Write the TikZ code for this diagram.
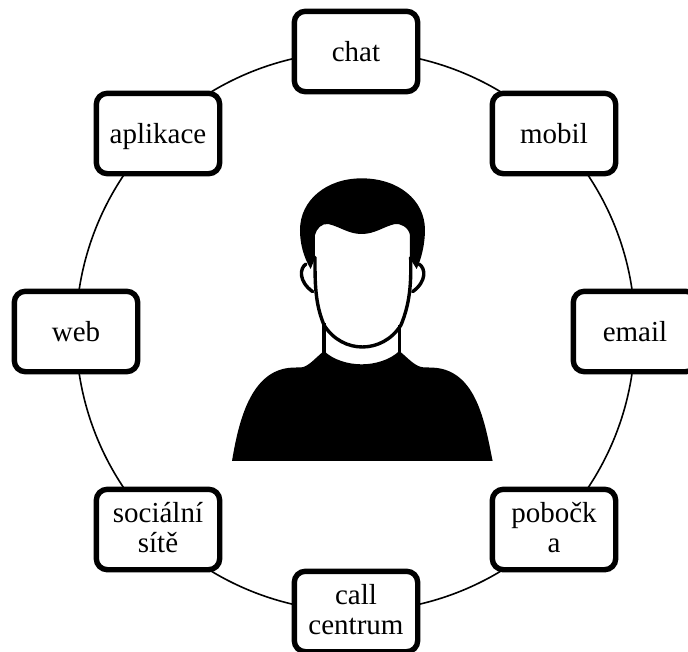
\documentclass[tikz,border=0pt]{standalone}
\usepackage{fontspec}
\setmainfont{Liberation Serif}
\usetikzlibrary{backgrounds}
\tikzset{
  box/.style={draw=black,fill=white,line width=5.4pt,rounded corners=11pt,
    minimum width=123.4pt,minimum height=80.4pt,inner sep=0pt,align=center,
    font=\fontsize{29}{30}\selectfont,text height=19.8pt,text depth=0pt},
  twoline/.style={text height=46pt,text depth=0pt},
  ring/.style={line width=1.6pt,black,looseness=0.885},
  faceline/.style={line width=3.4pt,line cap=round,line join=round}
}
\begin{document}
\begin{tikzpicture}[x=1pt,y=-1pt]
\useasboundingbox (0,0) rectangle (688,651);
\node[box] (chat) at (356,51.5) {chat};
\node[box] (mobil) at (554,133.5) {mobil};
\node[box] (email) at (635,331.5) {email};
\node[box,twoline] (pobocka) at (554,529.5) {poboč{}k\\a};
\node[box,twoline] (call) at (356,611.5) {call\\centrum};
\node[box,twoline] (socialni) at (158,529.5) {sociální\\sítě};
\node[box] (web) at (76,331.5) {web};
\node[box] (aplikace) at (158,133.5) {aplikace};
\begin{scope}[on background layer]
\draw[ring] (chat.center) to[bend left=22.5] (mobil.center);
\draw[ring] (mobil.center) to[bend left=22.5] (email.center);
\draw[ring] (email.center) to[bend left=22.5] (pobocka.center);
\draw[ring] (pobocka.center) to[bend left=22.5] (call.center);
\draw[ring] (call.center) to[bend left=22.5] (socialni.center);
\draw[ring] (socialni.center) to[bend left=22.5] (web.center);
\draw[ring] (web.center) to[bend left=22.5] (aplikace.center);
\draw[ring] (aplikace.center) to[bend left=22.5] (chat.center);
\end{scope}
\begin{scope}[shift={(220,170)},x=0.3333pt,y=-0.3333pt]
% body
\fill[black] (36,873) .. controls (55,760) and (90,600) .. (215,593)
  -- (245,592) .. controls (265,590) and (285,565) .. (312,543)
  .. controls (340,570) and (385,583) .. (425,583)
  .. controls (465,583) and (510,570) .. (538,543)
  .. controls (565,565) and (585,590) .. (610,592)
  -- (640,593) .. controls (770,600) and (795,760) .. (818,873) -- cycle;
% neck
\draw[faceline,line cap=butt] (312,460) -- (312,548);
\draw[faceline,line cap=butt] (538,465) -- (538,548);
% ears
\draw[faceline] (258,282) .. controls (238,295) and (236,335) .. (278,365);
\draw[faceline] (597,282) .. controls (618,295) and (620,335) .. (578,365);
% face outline
\draw[faceline] (285,262) .. controls (285,340) and (285,400) .. (312,465)
  .. controls (340,510) and (385,531) .. (427,531)
  .. controls (470,531) and (515,510) .. (543,465)
  .. controls (570,400) and (574,340) .. (572,262);
% hair
\fill[black] (272,297) .. controls (250,260) and (240,220) .. (240,180)
  .. controls (240,90) and (320,25) .. (425,25)
  .. controls (535,25) and (615,90) .. (615,180)
  .. controls (615,220) and (605,265) .. (590,297)
  -- (570,265) -- (570,195)
  .. controls (565,170) and (540,160) .. (525,162)
  .. controls (490,170) and (465,192) .. (425,192)
  .. controls (385,192) and (360,170) .. (325,162)
  .. controls (305,160) and (290,175) .. (285,195)
  -- (285,265) -- cycle;
\end{scope}
\end{tikzpicture}
\end{document}
